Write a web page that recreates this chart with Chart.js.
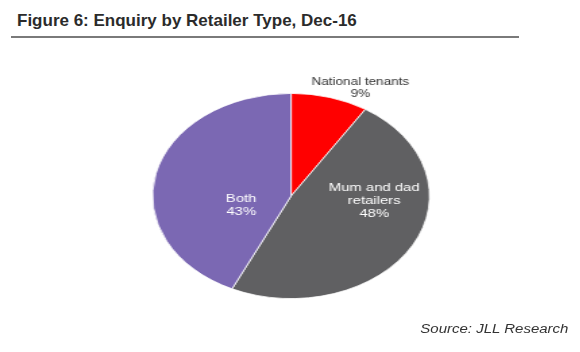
<!DOCTYPE html>
<html>
<head>
<meta charset="utf-8">
<script src="https://cdn.jsdelivr.net/npm/chart.js@4/dist/chart.umd.min.js"></script>
<style>
    html, body { margin: 0; padding: 0; background: #fff; }
    #page { position: relative; width: 580px; height: 352px; overflow: hidden; font-family: 'Liberation Sans', Arial, sans-serif; }
    #title { position: absolute; left: 17px; top: 11px; font-size: 17px; font-weight: bold; color: #2b2b2b; white-space: nowrap; }
    #rule { position: absolute; left: 11px; top: 36px; width: 508px; height: 0; border-top: 2px solid #7a7a7a; }
    /* the chart in the picture is stretched sideways */
    #chartWrap { position: absolute; left: 0; top: 0; width: 430px; height: 352px; transform: scaleX(1.35); transform-origin: 0 0; }
    #source { position: absolute; right: 12px; top: 322px; font-size: 12.5px; font-style: italic; color: #333; white-space: nowrap; transform: scaleX(1.2); transform-origin: 100% 0; }
</style>
</head>
<body>
<div id="page">
    <div id="title">Figure 6: Enquiry by Retailer Type, Dec-16</div>
    <div id="rule"></div>
    <div id="chartWrap"><canvas id="retailerChart" width="430" height="352"></canvas></div>
    <div id="source">Source: JLL Research</div>
</div>

<script>
// Chart data
const categories = ['National tenants', 'Mum and dad retailers', 'Both'];
const shares = [9, 48, 43];
const labelLines = [['National tenants', '9%'], ['Mum and dad', 'retailers', '48%'], ['Both', '43%']];

const sliceColors = ['#ff0000', '#606062', '#7b68b3'];

// label placement, as fractions of the pie radius from its centre
const labelOffsets = [[0.5, -1.05], [0.6, 0.05], [-0.36, 0.09]];
const labelColors = ['#333333', '#ffffff', '#ffffff'];
const labelFonts = ['10px "Liberation Sans", Arial', '11px "Liberation Sans", Arial', '11px "Liberation Sans", Arial'];
const labelLineHeights = [12, 13, 13];

// Draw text labels in or above the slices
const sliceLabels = {
    id: 'sliceLabels',
    afterDatasetsDraw(chart) {
        const ctx = chart.ctx;
        const arcs = chart.getDatasetMeta(0).data;
        ctx.save();
        ctx.textAlign = 'center';
        ctx.textBaseline = 'middle';
        arcs.forEach((arc, i) => {
            const p = arc.getProps(['x', 'y', 'outerRadius'], true);
            const cx = p.x + labelOffsets[i][0] * p.outerRadius;
            const cy = p.y + labelOffsets[i][1] * p.outerRadius;
            const lines = labelLines[i];
            const lh = labelLineHeights[i];
            ctx.font = labelFonts[i];
            ctx.fillStyle = labelColors[i];
            lines.forEach((line, j) => {
                ctx.fillText(line, cx, cy + (j - (lines.length - 1) / 2) * lh);
            });
        });
        ctx.restore();
    }
};

new Chart(document.getElementById('retailerChart'), {
    type: 'pie',
    data: {
        labels: categories,
        datasets: [{
            data: shares,
            backgroundColor: sliceColors,
            borderColor: '#ffffff',
            borderWidth: 0.8
        }]
    },
    options: {
        responsive: false,
        animation: false,
        layout: {
            padding: { left: 112.6, right: 111.4, top: 93, bottom: 53 }
        },
        plugins: {
            legend: { display: false },
            tooltip: { enabled: false }
        }
    },
    plugins: [sliceLabels]
});
</script>
</body>
</html>
